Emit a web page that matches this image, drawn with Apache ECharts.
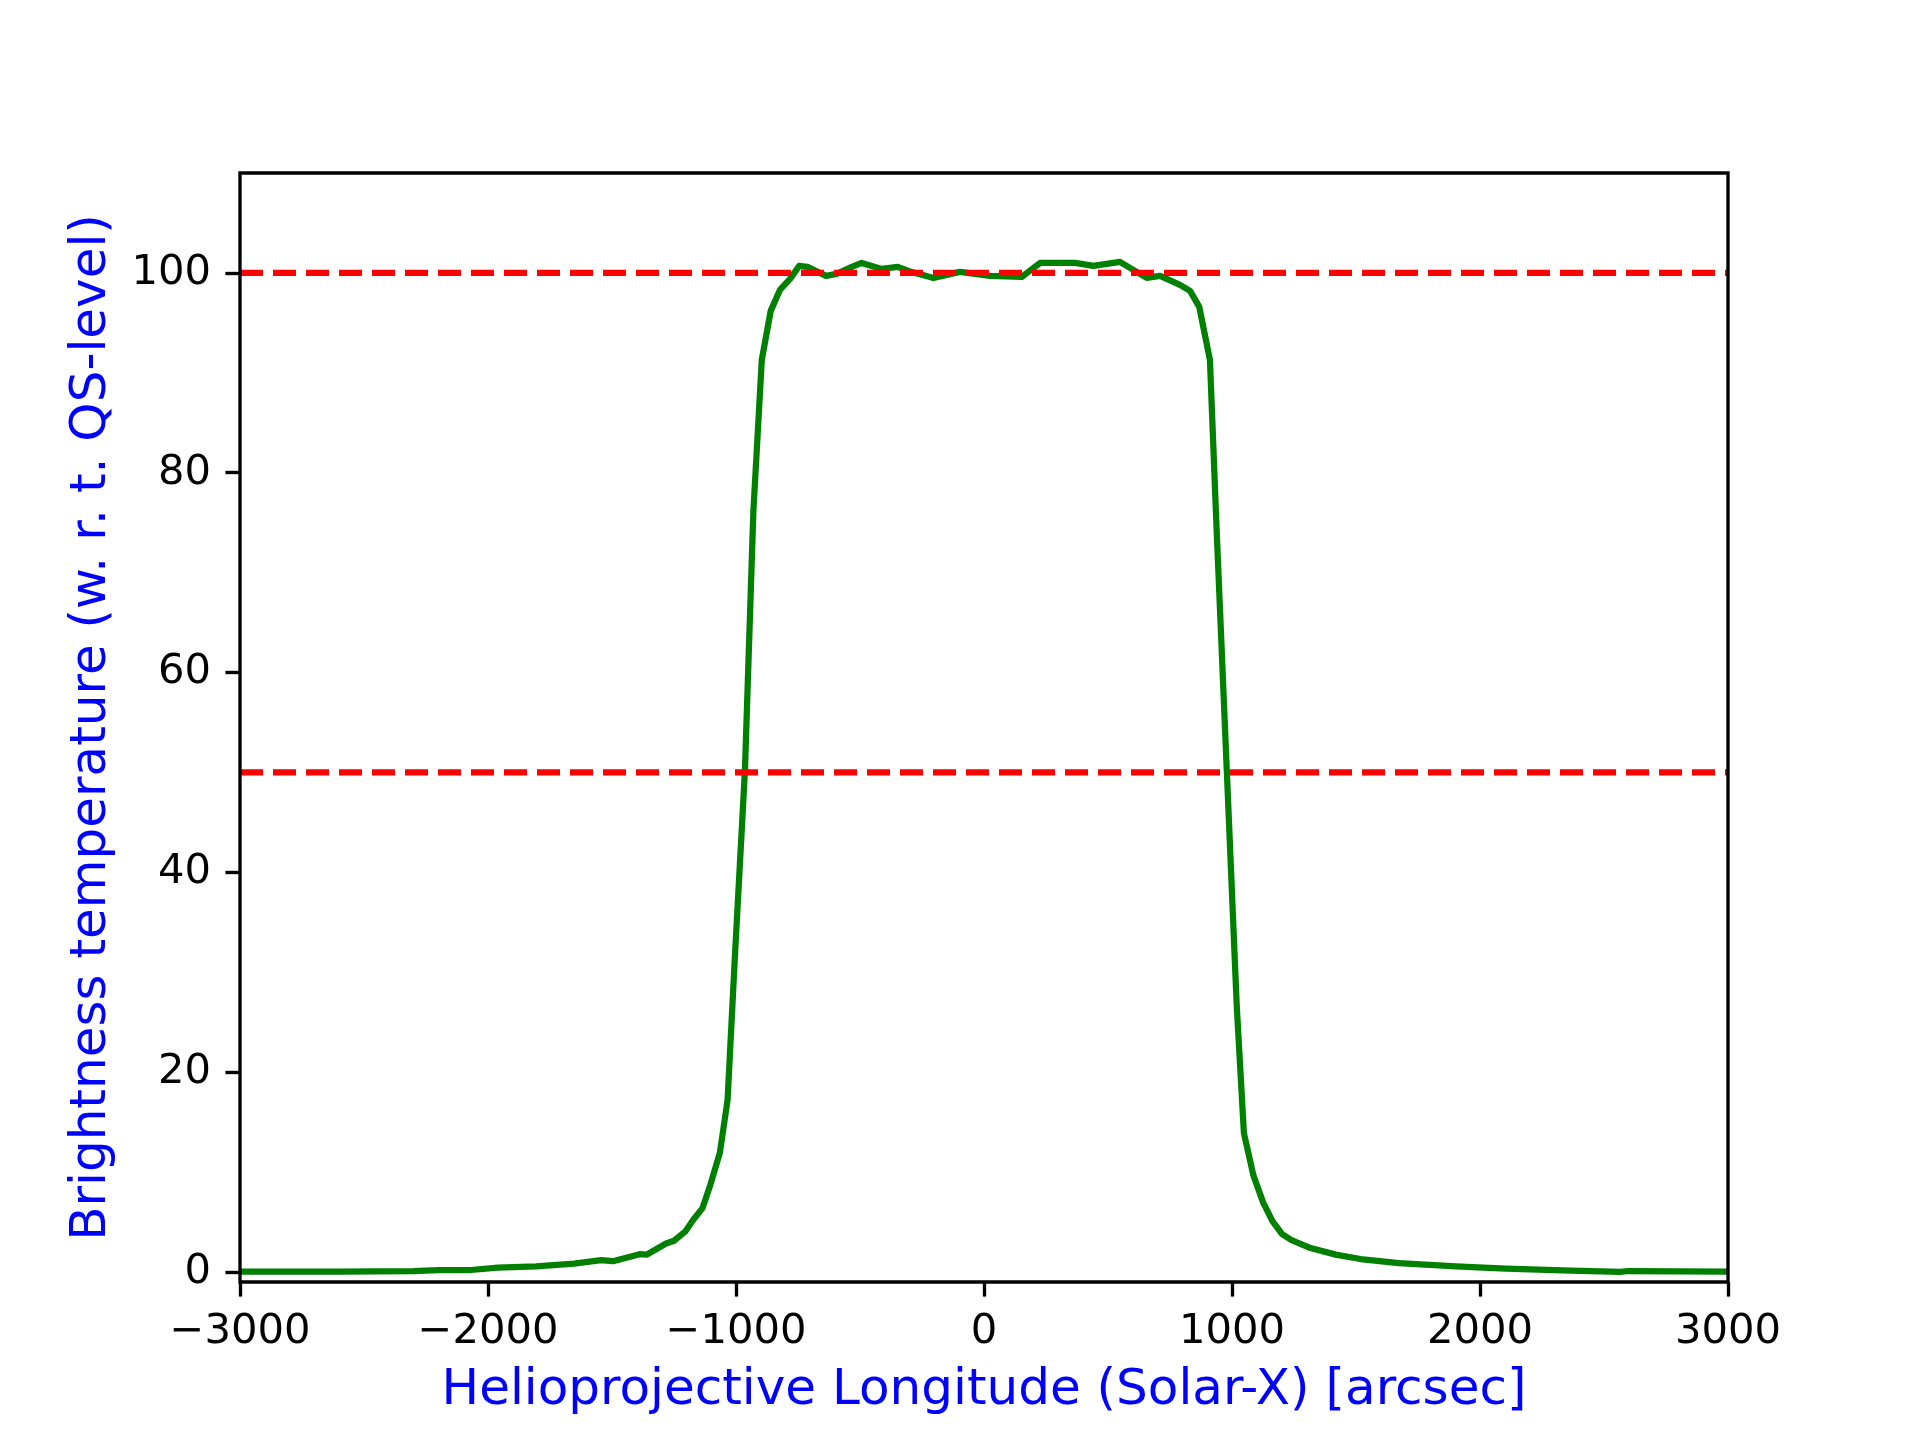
<!DOCTYPE html>
<html>
<head>
<meta charset="utf-8">
<script src="https://cdn.jsdelivr.net/npm/echarts@6/dist/echarts.min.js"></script>
<style>
html,body{margin:0;padding:0;background:#fff;}
#chart{width:1920px;height:1440px;}
</style>
</head>
<body>
<div id="chart"></div>
<script>
// Solar-X positions [arcsec]
const xValues = [-3000, -2600, -2300, -2200, -2069, -1960, -1806, -1653, -1544, -1496, -1389, -1359,
  -1282, -1250, -1205, -1173, -1135, -1105, -1065, -1034, -1004, -964, -930, -896, -860, -823, -782,
  -745, -712, -637, -594, -533, -493, -453, -412, -348, -305, -204, -97, 24, 152, 226, 367, 441, 548,
  656, 710, 790, 831, 868, 911, 938, 979, 1019, 1048, 1086, 1125, 1163, 1202, 1240, 1317, 1418, 1518,
  1673, 1903, 2104, 2367, 2567, 2596, 3000];
// Brightness temperature (w. r. t. QS-level)
const yValues = [0.05, 0.05, 0.1, 0.2, 0.2, 0.44, 0.57, 0.84, 1.18, 1.08, 1.78, 1.75,
  2.86, 3.13, 4.04, 5.2, 6.4, 8.6, 11.95, 17.2, 31.8, 50.2, 76.1, 91.3, 96.2, 98.3, 99.4,
  100.7, 100.6, 99.7, 99.9, 100.6, 101.0, 100.7, 100.4, 100.6, 100.2, 99.5, 100.1, 99.7, 99.6, 101.0, 101.0, 100.7, 101.1,
  99.5, 99.7, 98.8, 98.2, 96.6, 91.3, 74.3, 50.2, 26.7, 13.9, 9.7, 7.0, 5.1, 3.8, 3.2, 2.4, 1.74, 1.3,
  0.9, 0.56, 0.33, 0.13, 0.02, 0.1, 0.05];
const referenceLevels = [100, 50];
const xTicks = [-3000, -2000, -1000, 0, 1000, 2000, 3000];
const yTicks = [0, 20, 40, 60, 80, 100];
const xRange = [-3000, 3000];
const yRange = [-1, 110];
const xLabel = 'Helioprojective Longitude (Solar-X) [arcsec]';
const yLabel = 'Brightness temperature (w. r. t. QS-level)';

const FONT = '"DejaVu Sans", sans-serif';
const chart = echarts.init(document.getElementById('chart'), null, {renderer: 'canvas'});

const curve = xValues.map((x, i) => [x, yValues[i]]);
const refSeries = referenceLevels.map(lv => ({
  type: 'line',
  data: [[xRange[0], lv], [xRange[1], lv]],
  showSymbol: false,
  silent: true,
  z: 3,
  lineStyle: {color: '#ff0000', width: 6.25, type: [23, 10], cap: 'butt'}
}));

chart.setOption({
  animation: false,
  backgroundColor: '#ffffff',
  grid: {
    left: 240, right: 192, top: 173, bottom: 158,
    containLabel: false,
    outerBoundsMode: 'none',
    show: true,
    borderColor: '#000000',
    borderWidth: 3.33,
    backgroundColor: 'transparent',
    z: 10
  },
  xAxis: {
    type: 'value',
    min: xRange[0], max: xRange[1], interval: 1000,
    name: xLabel,
    nameLocation: 'middle',
    nameGap: 84,
    nameTextStyle: {color: '#0000ff', fontSize: 50, fontFamily: FONT},
    axisLine: {show: false, onZero: false},
    splitLine: {show: false},
    axisTick: {show: true, inside: false, length: 14.6, lineStyle: {color: '#000', width: 3.33}, customValues: xTicks},
    axisLabel: {
      color: '#000', fontSize: 41.7, fontFamily: FONT, margin: 29,
      customValues: xTicks,
      formatter: v => String(v).replace('-', '\u2212')
    }
  },
  yAxis: {
    type: 'value',
    min: yRange[0], max: yRange[1],
    name: yLabel,
    nameLocation: 'middle',
    nameGap: 123,
    nameTextStyle: {color: '#0000ff', fontSize: 50, fontFamily: FONT},
    axisLine: {show: false, onZero: false},
    splitLine: {show: false},
    axisTick: {show: true, inside: false, length: 14.6, lineStyle: {color: '#000', width: 3.33}, customValues: yTicks},
    axisLabel: {
      color: '#000', fontSize: 41.7, fontFamily: FONT, margin: 29,
      customValues: yTicks,
      formatter: v => String(v)
    }
  },
  series: [{
    type: 'line',
    data: curve,
    showSymbol: false,
    silent: true,
    z: 2,
    lineStyle: {color: '#008000', width: 6.25, join: 'round'}
  }].concat(refSeries)
});
</script>
</body>
</html>
